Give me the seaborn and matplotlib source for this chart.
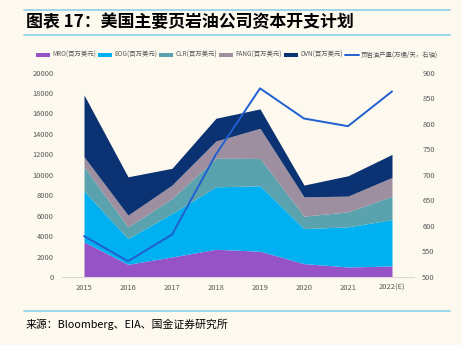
import matplotlib
matplotlib.use("Agg")
import matplotlib.pyplot as plt
import seaborn as sns
import numpy as np
import pandas as pd
from matplotlib.patches import Patch
from matplotlib.lines import Line2D

years = ["2015", "2016", "2017", "2018", "2019", "2020", "2021", "2022(E)"]
mro = [3430, 1240, 1960, 2710, 2520, 1310, 980, 1080]
eog = [4970, 2520, 4250, 6110, 6400, 3430, 3920, 4540]
clr = [2380, 1140, 1470, 2790, 2680, 1210, 1470, 2290]
fang = [980, 1150, 1310, 1690, 2940, 1890, 1540, 1830]
dvn = [6050, 3750, 1640, 2230, 1900, 1150, 1990, 2250]
shale = [580, 531, 583, 740, 869, 810, 795, 863]

series_names = ["MRO(百万美元)", "EOG(百万美元)", "CLR(百万美元)", "FANG(百万美元)", "DVN(百万美元)"]
line_name = "页岩油产量(万桶/天，右轴)"
colors = ["#9653C6", "#00B0F0", "#5AA2AE", "#9D8FA0", "#0B3272"]
line_color = "#1F5FD0"
bg = "#FDF9EF"

sns.set_theme(style="white")
plt.rcParams['font.family'] = ['Noto Sans CJK SC', 'DejaVu Sans']

fig = plt.figure(figsize=(4.62, 3.45), dpi=100, facecolor=bg)
ax = fig.add_axes([62/462, 1-277/345, (414-62)/462, (277-72.5)/345])
ax.set_facecolor(bg)

x = np.arange(len(years))
stack = np.vstack([mro, eog, clr, fang, dvn])
ax.stackplot(x, stack, colors=colors, linewidth=0)
ax.set_xlim(-0.5, len(years) - 0.5)
ax.set_ylim(0, 20000)
ax.set_yticks(np.arange(0, 20001, 2000))
ax.set_xticks(x)
ax.set_xticklabels(years)
ax.set_xticks(np.arange(-0.5, len(years), 1), minor=True)
ax.tick_params(axis='x', which='major', length=0, labelsize=5.4, colors="#595959", pad=5)
ax.tick_params(axis='x', which='minor', length=2.5, color="#D0D0D0", width=0.8, direction='out')
ax.tick_params(axis='y', length=0, labelsize=5.4, colors="#595959", pad=6)
for s in ["top", "right", "left"]:
    ax.spines[s].set_visible(False)
ax.spines["bottom"].set_color("#D9D9D9")
ax.spines["bottom"].set_linewidth(0.8)

ax2 = ax.twinx()
df = pd.DataFrame({"x": x, "v": shale})
sns.lineplot(data=df, x="x", y="v", ax=ax2, color=line_color, linewidth=1.4)
ax2.set_ylim(500, 900)
ax2.set_yticks(np.arange(500, 901, 50))
ax2.set_ylabel("")
ax2.set_xlabel("")
ax.set_xlabel("")
ax2.tick_params(axis='y', length=0, labelsize=5.4, colors="#595959", pad=6)
for s in ["top", "right", "left", "bottom"]:
    ax2.spines[s].set_visible(False)

handles = [Patch(facecolor=c, edgecolor='none') for c in colors] + [Line2D([0], [0], color=line_color, lw=1.4)]
labels = series_names + [line_name]
fig.legend(handles, labels, loc='center', bbox_to_anchor=(0.5 + 6/462, 1-55/345), ncol=6, frameon=False,
           fontsize=4.6, labelcolor="#595959", handlelength=2.2, handleheight=0.55, handletextpad=0.3,
           columnspacing=0.35, borderaxespad=0)

# title and source
fig.text(26/462, 1-22/345, "图表 17：美国主要页岩油公司资本开支计划", fontsize=12.2, fontweight='bold',
         va='center', ha='left', color="black")
fig.add_artist(Line2D([24/462, 450/462], [1-10/345, 1-10/345], color="#8DCFEA", lw=1.2))
fig.add_artist(Line2D([24/462, 450/462], [1-35/345, 1-35/345], color="#8DCFEA", lw=1.2))
fig.add_artist(Line2D([24/462, 450/462], [1-311/345, 1-311/345], color="#8DCFEA", lw=1.2))
fig.text(26/462, 1-324/345, "来源：Bloomberg、EIA、国金证券研究所", fontsize=7.8, va='center', ha='left', color="black")

fig.savefig("out.png", dpi=100, facecolor=bg)
